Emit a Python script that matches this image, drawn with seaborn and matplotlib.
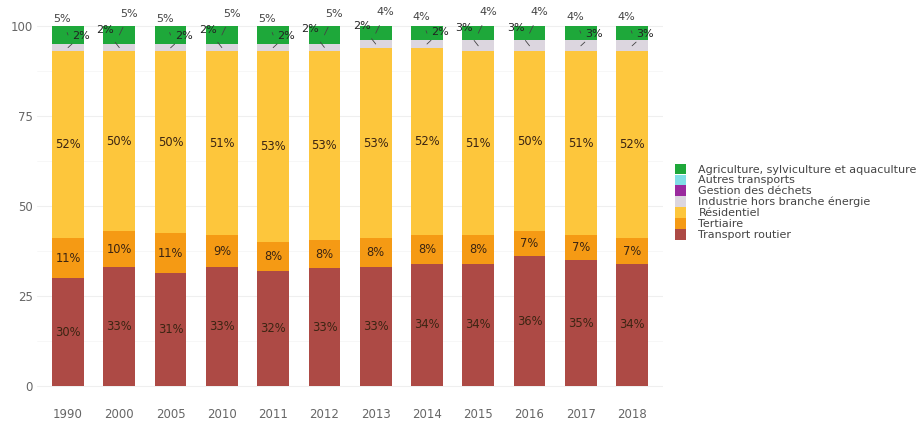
import matplotlib
matplotlib.use("Agg")
import matplotlib.pyplot as plt
from matplotlib.patches import Patch
import seaborn as sns
import pandas as pd
import numpy as np

years = ["1990", "2000", "2005", "2010", "2011", "2012", "2013", "2014", "2015", "2016", "2017", "2018"]
transport_routier = [30, 33, 31, 33, 32, 33, 33, 34, 34, 36, 35, 34]
tertiaire = [11, 10, 11, 9, 8, 8, 8, 8, 8, 7, 7, 7]
residentiel = [52, 50, 50, 51, 53, 53, 53, 52, 51, 50, 51, 52]
industrie = [2, 2, 2, 2, 2, 2, 2, 2, 3, 3, 3, 3]
gestion_dechets = [0] * 12
autres_transports = [0] * 12
agriculture = [5, 5, 5, 5, 5, 5, 4, 4, 4, 4, 4, 4]
# side of the agriculture label (-1 left, +1 right); industrie label goes the other way
agri_side = [-1, 1, -1, 1, -1, 1, 1, -1, 1, 1, -1, -1]

sectors = ["Transport routier", "Tertiaire", "Résidentiel", "Industrie hors branche énergie",
           "Gestion des déchets", "Autres transports", "Agriculture, sylviculture et aquaculture"]
values = [transport_routier, tertiaire, residentiel, industrie, gestion_dechets,
          autres_transports, agriculture]
colors = ["#ad4a45", "#f59a14", "#fdc63c", "#dcd6df", "#9a2a9e", "#80dfe6", "#1ea83a"]

vals = np.array(values, dtype=float)
vals = vals / vals.sum(axis=0) * 100
cum = np.cumsum(vals, axis=0)

df = pd.DataFrame({"year": years})
for i, s in enumerate(sectors):
    df[s] = cum[i]

sns.set_theme(style="white")
plt.rcParams["font.family"] = ["DejaVu Sans"]

fig = plt.figure(figsize=(9.2, 4.21), dpi=100)
ax = fig.add_axes([0.0405, 0.04, 0.680, 0.941])

for i in range(len(sectors) - 1, -1, -1):
    if vals[i].sum() == 0:
        continue
    sns.barplot(data=df, x="year", y=sectors[i], color=colors[i], width=0.62,
                saturation=1, ax=ax, edgecolor="none", linewidth=0)

ax.set_ylim(-5, 105)
ax.set_xlim(-0.6, len(years) - 0.4)
ax.set_yticks([0, 25, 50, 75, 100])
ax.set_yticks([12.5, 37.5, 62.5, 87.5], minor=True)
ax.yaxis.grid(True, which="major", color="#efefef", linewidth=0.8)
ax.yaxis.grid(True, which="minor", color="#f6f6f6", linewidth=0.6)
ax.set_axisbelow(True)
for sp in ax.spines.values():
    sp.set_visible(False)
ax.set_xlabel("")
ax.set_ylabel("")
ax.tick_params(axis="both", length=0, labelsize=8.5, colors="#666666", pad=3)

txt_color = "#3b2412"
for j in range(len(years)):
    for i in range(3):
        mid = cum[i, j] - vals[i, j] / 2
        ax.text(j, mid, f"{values[i][j]:.0f}%", ha="center", va="center",
                fontsize=8.3, color=txt_color)
    s = agri_side[j]
    amid = cum[6, j] - vals[6, j] / 2
    ax.annotate(f"{agriculture[j]}%", xy=(j, amid),
                xytext=(-6 if s < 0 else 10, 16 if s < 0 else 21), textcoords="offset pixels",
                ha="center", va="center", fontsize=8, color="#444444",
                arrowprops=dict(arrowstyle="-", color="#444444", lw=0.6, shrinkA=4, shrinkB=0))
    imid = cum[3, j] - vals[3, j] / 2
    ax.annotate(f"{industrie[j]}%", xy=(j, imid),
                xytext=(13 if s < 0 else -14, 12 if s < 0 else 18), textcoords="offset pixels",
                ha="center", va="center", fontsize=8, color="#222222",
                arrowprops=dict(arrowstyle="-", color="#444444", lw=0.6, shrinkA=4, shrinkB=0))

leg_order = list(range(len(sectors) - 1, -1, -1))
handles = [Patch(facecolor=colors[i], edgecolor="none") for i in leg_order]
labels = [sectors[i] for i in leg_order]
fig.legend(handles, labels, loc="upper left", bbox_to_anchor=(0.729, 0.622), frameon=False,
           fontsize=8, labelspacing=0.0, handlelength=1.0, handleheight=1.05,
           handletextpad=1.1, borderaxespad=0, labelcolor="#444444")

fig.savefig("out.png", dpi=100)
